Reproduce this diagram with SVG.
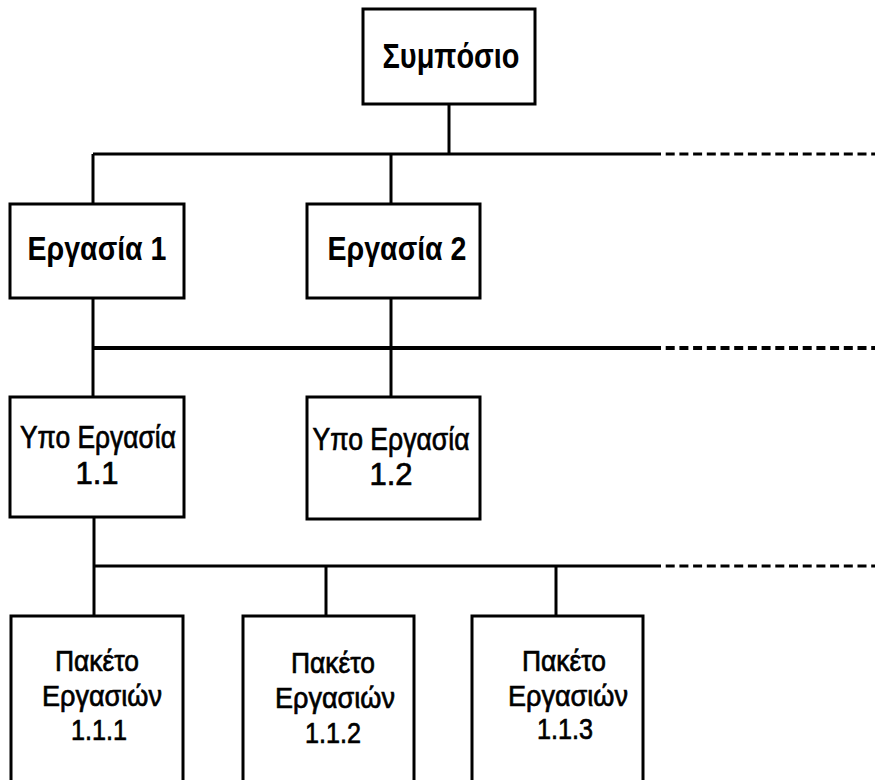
<svg xmlns="http://www.w3.org/2000/svg" width="875" height="780" viewBox="0 0 875 780">
<style>
.box{fill:#fff;stroke:#000;stroke-width:3}
.ln{fill:none;stroke:#000;stroke-width:3}
.dash{fill:none;stroke:#000;stroke-width:3;stroke-dasharray:9 4.7}
text{font-family:"Liberation Sans",Arial,sans-serif;fill:#000;text-anchor:middle}
.b{font-weight:bold}
.m{stroke:#000;stroke-width:0.7}
.t1{font-size:35px}
.t2{font-size:33px}
.t3{font-size:31px}
.t4{font-size:30px}
</style>
<rect width="875" height="780" fill="#fff"/>
<g id="connectors">
<line class="ln" x1="449" y1="104" x2="449" y2="154"/>
<line class="ln" x1="93" y1="154" x2="652" y2="154"/>
<line class="dash" x1="652" y1="154" x2="875" y2="154"/>
<line class="ln" x1="93" y1="154" x2="93" y2="204"/>
<line class="ln" x1="391" y1="154" x2="391" y2="204"/>
<line class="ln" x1="93" y1="298" x2="93" y2="348"/>
<line class="ln" x1="391" y1="298" x2="391" y2="348"/>
<line class="ln" x1="93" y1="348" x2="652" y2="348" style="stroke-width:4"/>
<line class="dash" x1="652" y1="348" x2="875" y2="348" style="stroke-width:4"/>
<line class="ln" x1="93" y1="348" x2="93" y2="397"/>
<line class="ln" x1="391" y1="348" x2="391" y2="397"/>
<line class="ln" x1="94" y1="517" x2="94" y2="566"/>
<line class="ln" x1="94" y1="566" x2="652" y2="566"/>
<line class="dash" x1="652" y1="566" x2="875" y2="566"/>
<line class="ln" x1="94" y1="566" x2="94" y2="616"/>
<line class="ln" x1="326" y1="566" x2="326" y2="616"/>
<line class="ln" x1="556" y1="566" x2="556" y2="616"/>
</g>
<g id="symposio">
<rect class="box" x="363" y="9" width="172" height="95"/>
<text class="b t1" x="451" y="68" textLength="137" lengthAdjust="spacingAndGlyphs">Συμπόσιο</text>
</g>
<g id="ergasia1">
<rect class="box" x="10" y="204" width="174" height="94"/>
<text class="b t2" x="97" y="260" textLength="139" lengthAdjust="spacingAndGlyphs">Εργασία 1</text>
</g>
<g id="ergasia2">
<rect class="box" x="307" y="204" width="173" height="94"/>
<text class="b t2" x="397" y="260" textLength="139" lengthAdjust="spacingAndGlyphs">Εργασία 2</text>
</g>
<g id="ypo11">
<rect class="box" x="10" y="397" width="174" height="120"/>
<text class="m t3" x="98" y="448" textLength="156" lengthAdjust="spacingAndGlyphs">Υπο Εργασία</text>
<text class="m t3" x="97" y="484">1.1</text>
</g>
<g id="ypo12">
<rect class="box" x="307" y="397" width="173" height="122"/>
<text class="m t3" x="391" y="450" textLength="157" lengthAdjust="spacingAndGlyphs">Υπο Εργασία</text>
<text class="m t3" x="391" y="485">1.2</text>
</g>
<g id="paketo111">
<rect class="box" x="11" y="616" width="172" height="180"/>
<text class="m t4" x="97" y="671" textLength="84" lengthAdjust="spacingAndGlyphs">Πακέτο</text>
<text class="m t4" x="102" y="706" textLength="120" lengthAdjust="spacingAndGlyphs">Εργασιών</text>
<text class="m t4" x="99" y="740" textLength="56" lengthAdjust="spacingAndGlyphs">1.1.1</text>
</g>
<g id="paketo112">
<rect class="box" x="243" y="616" width="171" height="180"/>
<text class="m t4" x="333" y="673" textLength="84" lengthAdjust="spacingAndGlyphs">Πακέτο</text>
<text class="m t4" x="335" y="708" textLength="120" lengthAdjust="spacingAndGlyphs">Εργασιών</text>
<text class="m t4" x="333" y="743" textLength="56" lengthAdjust="spacingAndGlyphs">1.1.2</text>
</g>
<g id="paketo113">
<rect class="box" x="472" y="616" width="171" height="180"/>
<text class="m t4" x="564" y="671" textLength="84" lengthAdjust="spacingAndGlyphs">Πακέτο</text>
<text class="m t4" x="568" y="706" textLength="120" lengthAdjust="spacingAndGlyphs">Εργασιών</text>
<text class="m t4" x="565" y="739" textLength="56" lengthAdjust="spacingAndGlyphs">1.1.3</text>
</g>
</svg>
